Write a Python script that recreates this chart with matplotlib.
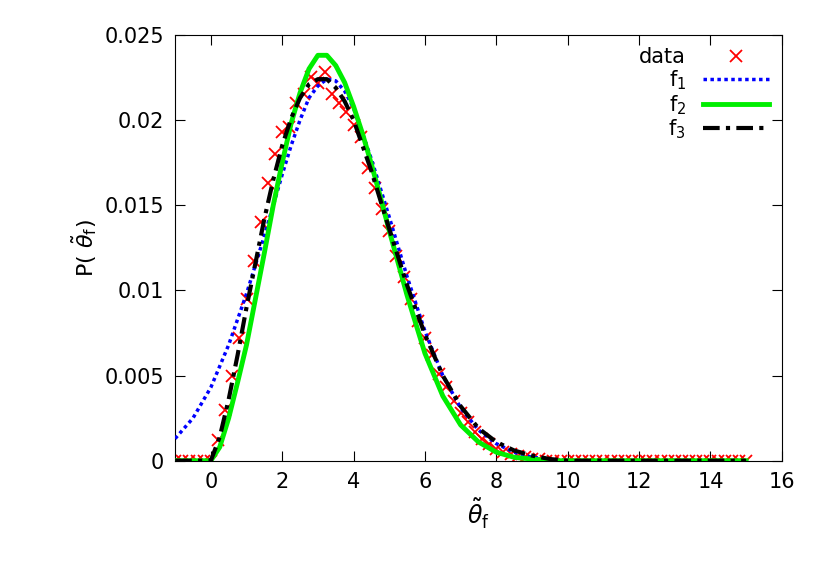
import numpy as np
import matplotlib
matplotlib.use("Agg")
import matplotlib.pyplot as plt

data_x = [round(-1 + 0.2 * i, 1) for i in range(81)]
data_y = [0]*6 + [0.0012, 0.0030, 0.0050, 0.0072, 0.0095, 0.0117, 0.0140, 0.0163, 0.0180, 0.0193,
              0.0196, 0.0210, 0.0215, 0.0225, 0.0222, 0.0228, 0.0215, 0.0210, 0.0205, 0.0197,
              0.0190, 0.0172, 0.0160, 0.0148, 0.0135, 0.0120, 0.0108, 0.0095, 0.0082, 0.0072,
              0.0062, 0.0051, 0.0043, 0.0035, 0.0028, 0.0023, 0.0017, 0.0013, 0.0010, 0.0007,
              0.0005, 0.0004, 0.0003, 0.0002, 0.0001, 0.0001]
data_y = data_y + [0] * (81 - len(data_y))

f1_x = [-1, -0.5, 0, 0.5, 1, 1.5, 2, 2.25, 2.5, 2.75, 3, 3.25, 3.5, 3.75, 4, 4.5, 5, 5.5, 6, 6.5, 7, 7.5, 8, 8.5, 9, 9.5, 10, 15]
f1_y = [0.0013, 0.0025, 0.0043, 0.0068, 0.0098, 0.0132, 0.0168, 0.0185, 0.0200, 0.0213, 0.0220, 0.0224, 0.0223, 0.0217,
        0.0207, 0.0177, 0.0143, 0.0108, 0.0076, 0.0050, 0.0031, 0.0018, 0.0010, 0.0005, 0.0002, 0.0001, 0, 0]

f2_x = [-1, 0, 0.25, 0.5, 0.75, 1, 1.25, 1.5, 1.75, 2, 2.25, 2.5, 2.75, 3, 3.25, 3.5, 3.75, 4, 4.25, 4.5, 4.75, 5,
        5.5, 6, 6.5, 7, 7.5, 8, 8.5, 9, 9.5, 15]
f2_y = [0, 0, 0.0008, 0.0025, 0.0046, 0.0068, 0.0095, 0.0122, 0.0150, 0.0175, 0.0198, 0.0216, 0.0230, 0.0238, 0.0238,
        0.0232, 0.0222, 0.0208, 0.0192, 0.0174, 0.0155, 0.0135, 0.0097, 0.0063, 0.0038, 0.0021, 0.0011, 0.0005,
        0.0002, 0.0001, 0, 0]

f3_x = [-1, 0, 0.25, 0.5, 0.75, 1, 1.25, 1.5, 1.75, 2, 2.25, 2.5, 2.75, 3, 3.25, 3.5, 3.75, 4, 4.5, 5, 5.5, 6, 6.5,
        7, 7.5, 8, 8.5, 9, 9.5, 10, 15]
f3_y = [0, 0, 0.0014, 0.0036, 0.0062, 0.0090, 0.0116, 0.0142, 0.0165, 0.0185, 0.0201, 0.0213, 0.0221, 0.0224, 0.0224,
        0.0219, 0.0211, 0.0200, 0.0170, 0.0136, 0.0103, 0.0074, 0.0050, 0.0032, 0.0019, 0.0011, 0.0006, 0.0003,
        0.0001, 0, 0]

plt.rcParams["font.family"] = "DejaVu Sans"
fig = plt.figure(figsize=(8.3, 5.81), dpi=100)
ax = fig.add_axes([0.211, 0.207, 0.731, 0.733])

ax.plot(data_x, data_y, linestyle="none", marker="x", color="#ff0000", markersize=8, mew=1.3, label="data", zorder=2)
ax.plot(f1_x, f1_y, color="#0000ff", linestyle=(0, (1, 1)), lw=2.5, label="f$_1$", zorder=3)
ax.plot(f2_x, f2_y, color="#00ee00", linestyle="-", lw=3.5, label="f$_2$", zorder=3)
ax.plot(f3_x, f3_y, color="black", linestyle=(0, (4, 1.5, 1, 1.5)), lw=3, label="f$_3$", zorder=4)

ax.set_xlim(-1, 16)
ax.set_ylim(0, 0.025)
ax.set_xticks([0, 2, 4, 6, 8, 10, 12, 14, 16])
ax.set_yticks([0, 0.005, 0.01, 0.015, 0.02, 0.025])
ax.set_yticklabels(["0", "0.005", "0.01", "0.015", "0.02", "0.025"])
ax.tick_params(direction="in", top=True, right=True, labelsize=15, length=7, pad=8)
ax.set_xlabel(r"$\tilde{\theta}_{\rm f}$", fontsize=17)
ax.set_ylabel(r"P( $\tilde{\theta}_{\rm f}$)", fontsize=16)
ax.legend(loc="upper right", frameon=False, markerfirst=False, fontsize=15,
          handlelength=3.2, labelspacing=0.05, borderaxespad=0.2, handletextpad=0.8)
fig.savefig("out.png", dpi=100)
